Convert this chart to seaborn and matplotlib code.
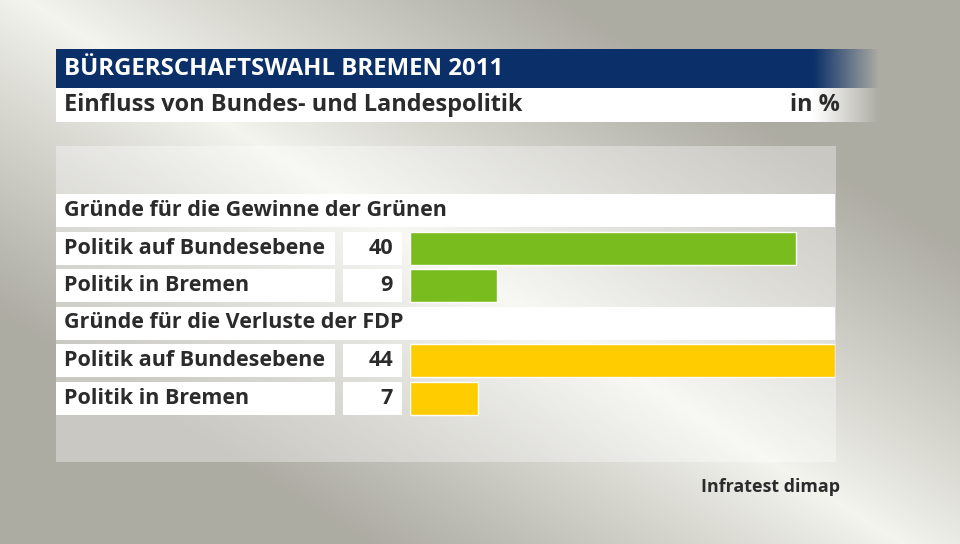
import numpy as np
import pandas as pd
import matplotlib
matplotlib.use('Agg')
import matplotlib.pyplot as plt
import matplotlib.transforms as mtransforms
from matplotlib.patches import Rectangle
import seaborn as sns

sns.set_theme(style='white')
plt.rcParams['font.family'] = ['Open Sans', 'DejaVu Sans']

# ---------------- data ----------------
title = 'BÜRGERSCHAFTSWAHL BREMEN 2011'
subtitle = 'Einfluss von Bundes- und Landespolitik'
unit = 'in %'
source = 'Infratest dimap'

headers = ['Gründe für die Gewinne der Grünen', 'Gründe für die Verluste der FDP']
labels = ['Politik auf Bundesebene', 'Politik in Bremen',
          'Politik auf Bundesebene', 'Politik in Bremen']
values = [40, 9, 44, 7]
groups = ['Grüne', 'Grüne', 'FDP', 'FDP']
palette = {'Grüne': '#78bc1e', 'FDP': '#ffcc00'}

# row order: header, two rows, header, two rows
rows = ['h0', 'r0', 'r1', 'h1', 'r2', 'r3']
df = pd.DataFrame({'row': ['r0', 'r1', 'r2', 'r3'],
                   'value': values, 'group': groups, 'label': labels})

NAVY = '#0b3069'
DARK = '#2b2b2b'

fig = plt.figure(figsize=(9.6, 5.44), dpi=100)

# ---------------- background (pixel coords) ----------------
bg = fig.add_axes([0, 0, 1, 1])
bg.set_xlim(0, 960)
bg.set_ylim(544, 0)
bg.axis('off')

xx, yy = np.meshgrid(np.arange(960), np.arange(544))
# distance from a light diagonal band
d = (yy - xx * 0.62) / 330.0
t = np.clip(np.abs(d + 0.05), 0, 1) ** 0.9
light = np.array([0.96, 0.96, 0.94])
dark = np.array([0.68, 0.675, 0.64])
img = light[None, None, :] * (1 - t[..., None]) + dark[None, None, :] * t[..., None]
bg.imshow(img, extent=(0, 960, 544, 0), aspect='auto', zorder=0)

# translucent panel
bg.add_patch(Rectangle((56, 146), 780, 316, facecolor='white', alpha=0.35,
                       edgecolor='none', zorder=1))


def fade_band(ax, x0, x1, y0, y1, color, fade_start):
    n = 400
    xs = np.linspace(x0, x1, n)
    alpha = np.clip((x1 - xs) / (x1 - fade_start), 0, 1)
    rgba = np.zeros((1, n, 4))
    rgba[0, :, :3] = matplotlib.colors.to_rgb(color)
    rgba[0, :, 3] = alpha
    ax.imshow(rgba, extent=(x0, x1, y1, y0), aspect='auto', zorder=2,
              interpolation='bilinear')


fade_band(bg, 56, 880, 49, 88, NAVY, 815)
fade_band(bg, 56, 880, 88, 122, 'white', 815)
bg.set_xlim(0, 960)
bg.set_ylim(544, 0)

bg.text(64, 69, title, color='white', fontsize=17.3, fontweight='bold',
        va='center', ha='left', zorder=3)
bg.text(64, 105, subtitle, color=DARK, fontsize=16.9, fontweight='bold',
        va='center', ha='left', zorder=3)
bg.text(840, 105, unit, color=DARK, fontsize=16.9, fontweight='bold',
        va='center', ha='right', zorder=3)
bg.text(840, 487, source, color=DARK, fontsize=12.9, fontweight='bold',
        va='center', ha='right', zorder=3)

# ---------------- bars ----------------
ax = fig.add_axes([410 / 960, 1 - 416.75 / 544, 425 / 960, 225 / 544])
ax.patch.set_alpha(0)

# boxes and labels: x in pixels, y in row units of the bar axis
tr = mtransforms.blended_transform_factory(bg.transData, ax.transData)
h = 0.88
fs = 15.5
for i, r in enumerate(rows):
    if r.startswith('h'):
        ax.add_patch(Rectangle((56, i - h / 2), 779, h, transform=tr,
                               facecolor='white', edgecolor='none',
                               clip_on=False, zorder=1))
        ax.text(64, i, headers[int(r[1])], transform=tr, color=DARK,
                fontsize=fs, fontweight='bold', va='center', ha='left',
                clip_on=False)
    else:
        k = int(r[1])
        ax.add_patch(Rectangle((56, i - h / 2), 279, h, transform=tr,
                               facecolor='white', edgecolor='none',
                               clip_on=False, zorder=1))
        ax.add_patch(Rectangle((343, i - h / 2), 59, h, transform=tr,
                               facecolor='white', edgecolor='none',
                               clip_on=False, zorder=1))
        ax.text(64, i, labels[k], transform=tr, color=DARK,
                fontsize=fs, fontweight='bold', va='center', ha='left',
                clip_on=False)
        ax.text(393, i, str(values[k]), transform=tr, color=DARK,
                fontsize=fs, fontweight='bold', va='center', ha='right',
                clip_on=False)

sns.barplot(data=df, x='value', y='row', hue='group', order=rows,
            palette=palette, dodge=False, width=h, saturation=1,
            orient='h', legend=False, ax=ax, zorder=2)
ax.set_xlim(0, 44)
ax.set_ylim(5.5, -0.5)
ax.axis('off')

fig.savefig('out.png', dpi=100)
